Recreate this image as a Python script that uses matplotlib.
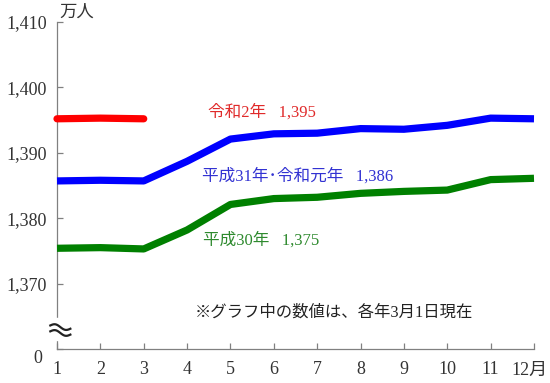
import matplotlib
matplotlib.use("Agg")
import matplotlib.pyplot as plt
import matplotlib.transforms as mtransforms
import numpy as np

months = list(range(1, 13))
month_labels = ["1", "2", "3", "4", "5", "6", "7", "8", "9", "10", "11", "12月"]
r2 = [1395.2, 1395.3, 1395.2]
h31 = [1385.7, 1385.8, 1385.7, 1388.7, 1392.1, 1392.9, 1393.0, 1393.7, 1393.6, 1394.2, 1395.3, 1395.2]
h30 = [1375.4, 1375.5, 1375.3, 1378.2, 1382.1, 1383.0, 1383.2, 1383.8, 1384.1, 1384.3, 1385.9, 1386.1]
ytick_vals = [1360, 1370, 1380, 1390, 1400, 1410]
ytick_labels = ["", "1,370", "1,380", "1,390", "1,400", "1,410"]

FAM = ["Liberation Serif", "Noto Sans CJK JP"]
plt.rcParams["font.family"] = FAM

fig = plt.figure(figsize=(5.5, 3.83), dpi=100)
ax = fig.add_axes([57/550, 34/383, 477/550, 327/383])

ax.plot(months[:3], r2, color="#ff0000", lw=5.2, solid_capstyle="round", clip_on=False, zorder=3)
ax.plot(months, h31, color="#0000ff", lw=5.2, solid_capstyle="butt", clip_on=False, zorder=3)
ax.plot(months, h30, color="#008000", lw=5.2, solid_capstyle="butt", clip_on=False, zorder=3)

ax.set_xlim(1, 12)
ax.set_ylim(1360, 1410)
ax.set_xticks(months)
ax.set_xticklabels(month_labels)
ax.set_yticks(ytick_vals)
ax.set_yticklabels(ytick_labels)

for s in ["top", "right"]:
    ax.spines[s].set_visible(False)
for s in ["left", "bottom"]:
    ax.spines[s].set_color("#808080")
    ax.spines[s].set_linewidth(0.9)
ax.tick_params(direction="in", length=4, width=0.9, color="#808080", labelsize=13, labelcolor="#333333")
ax.tick_params(axis="y", pad=7)
ax.tick_params(axis="x", pad=9)

# nudge the last x label so it stays inside the figure
last = ax.get_xticklabels()[-1]
last.set_transform(last.get_transform() + mtransforms.ScaledTranslation(-5/100, 0, fig.dpi_scale_trans))

# "0" label at the base
ax.annotate("0", xy=(0, 1360), xycoords=("axes fraction", "data"), xytext=(-14, -6.5),
            textcoords="offset points", ha="center", va="center", fontsize=13, color="#333333")
# unit label
ax.annotate("万人", xy=(0, 1), xycoords="axes fraction", xytext=(2, 7),
            textcoords="offset points", ha="left", va="center", fontsize=12.5, color="#333333")

# axis break
trans = mtransforms.blended_transform_factory(ax.transAxes, ax.transData)
ax.add_patch(plt.Rectangle((-0.01, 1361.4), 0.02, 3.4, transform=trans, color="white", zorder=4, clip_on=False))
t = np.linspace(0, 1, 40)
for dy in (0.0, 0.9):
    xs = -0.014 + 0.042 * t
    ys = 1362.7 + dy + 0.3 * np.sin(2 * np.pi * t) - 0.5 * t
    ax.plot(xs, ys, transform=trans, color="#222222", lw=1.6, clip_on=False, zorder=5)

# annotations
ax.text(4.48, 1396.1, "令和2年   1,395", color="#e02a2a", fontsize=12, ha="left", va="center")
ax.text(4.34, 1386.4, "平成31年･令和元年   1,386", color="#3232d2", fontsize=12, ha="left", va="center")
ax.text(4.36, 1376.6, "平成30年   1,375", color="#2e8a2e", fontsize=12, ha="left", va="center")
ax.text(4.18, 1365.6, "※グラフ中の数値は、各年3月1日現在", color="#222222", fontsize=11.8, ha="left", va="center")

fig.savefig("out.png", dpi=100)
